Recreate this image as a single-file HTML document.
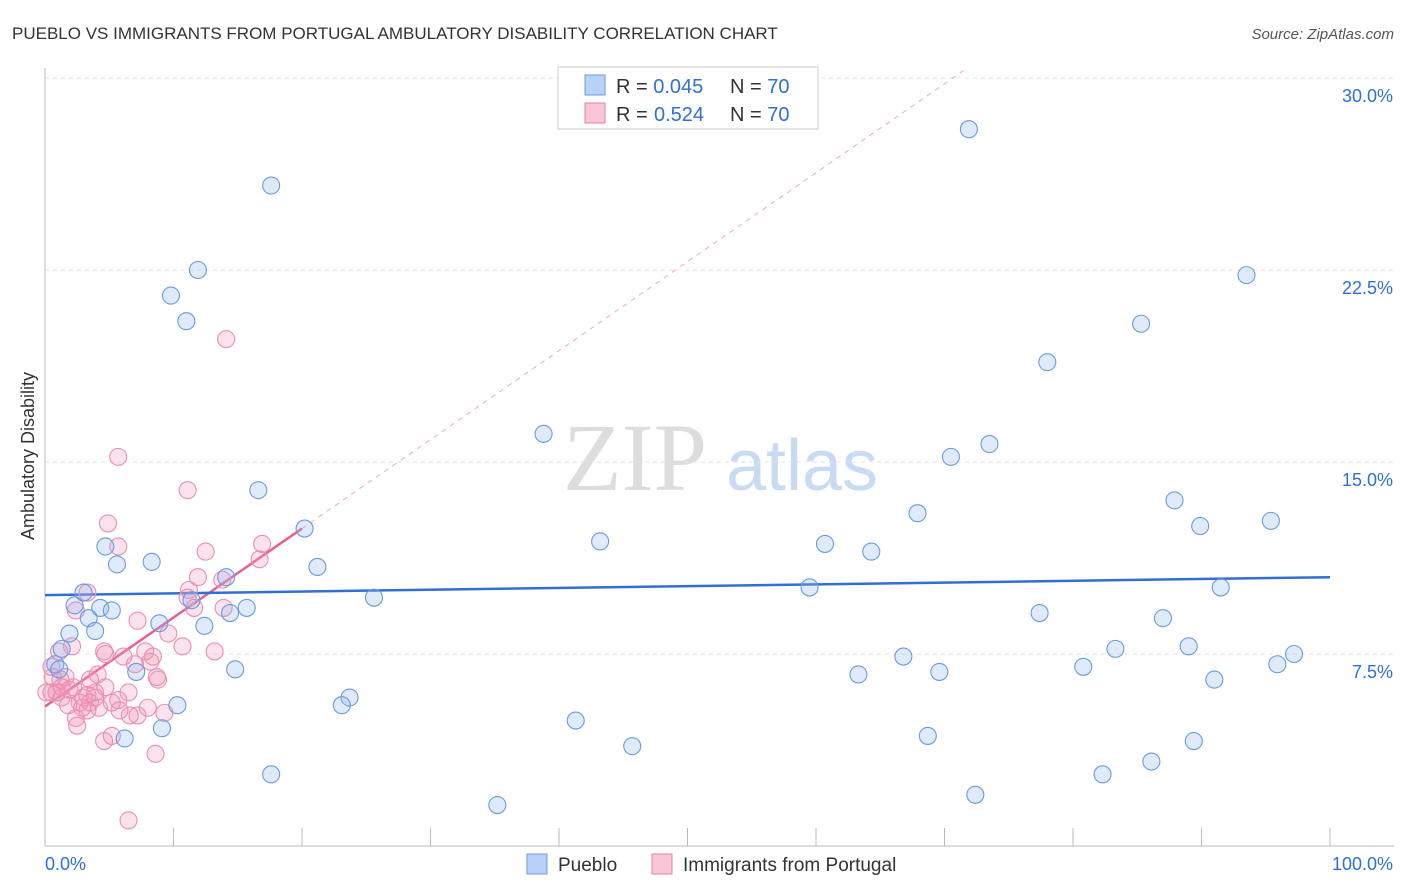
<!DOCTYPE html>
<html><head><meta charset="utf-8"><style>
body{margin:0;background:#fff;font-family:"Liberation Sans",sans-serif;}
svg{display:block}
</style></head><body>
<svg id="chart" width="1406" height="892" xmlns="http://www.w3.org/2000/svg">
<text x="12" y="39" font-size="17" fill="#333">PUEBLO VS IMMIGRANTS FROM PORTUGAL AMBULATORY DISABILITY CORRELATION CHART</text>
<text x="1394" y="39" font-size="15" fill="#555" font-style="italic" text-anchor="end">Source: ZipAtlas.com</text>
<text transform="translate(34,456) rotate(-90)" font-size="18" fill="#333" text-anchor="middle">Ambulatory Disability</text>
<g>
<text x="635" y="490" font-size="96" fill="#ddd" font-family="Liberation Serif,serif" text-anchor="middle">ZIP</text>
<text x="802" y="490" font-size="72" fill="#c9dbf3" text-anchor="middle">atlas</text>
</g>
<g id="grid"></g><g id="axes"></g><g id="lines"></g><g id="pts"></g>
<g>
<rect x="558" y="67" width="260" height="62" fill="#fff" stroke="#ccc"/>
<rect x="585" y="75" width="20" height="20" fill="#b9d1f5" stroke="#6a9be0"/>
<text x="616" y="93" font-size="20" fill="#333">R = <tspan fill="#2f6fd6">0.045</tspan></text>
<text x="730" y="93" font-size="20" fill="#333">N = <tspan fill="#2f6fd6">70</tspan></text>
<rect x="585" y="103" width="20" height="20" fill="#f8c6d6" stroke="#e87fa5"/>
<text x="616" y="121" font-size="20" fill="#333">R = </text>
<text x="654" y="121" font-size="20" fill="#2f6fd6">0.524</text>
<text x="730" y="121" font-size="20" fill="#333">N = <tspan fill="#2f6fd6">70</tspan></text>
</g>
<g>
<rect x="527" y="854" width="20" height="20" fill="#b9d1f5" stroke="#6a9be0"/>
<text x="558" y="871" font-size="19" fill="#333">Pueblo</text>
<rect x="652" y="854" width="20" height="20" fill="#f8c6d6" stroke="#e87fa5"/>
<text x="683" y="871" font-size="19" fill="#333">Immigrants from Portugal</text>
</g>
</svg>
<script>
const yTicks=[7.5,15,22.5,30];
const yTickLabels=["7.5%","15.0%","22.5%","30.0%"];
const xTicks=[0,10,20,30,40,50,60,70,80,90,100];
const blueTrend=[9.8,10.5];
const pinkTrend=[5.45,12.4];
const pinkTrendEndX=20;
const blueX=[17.6,71.9,11.9,9.8,11,93.5,85.3,78,38.8,73.5,70.5,16.6,87.9,67.9,95.4,89.9,20.2,43.2,60.7,4.7,64.3,8.3,5.6,21.2,14.1,3,59.5,91.5,25.6,2.3,4.3,5.2,15.7,14.4,11.4,3.4,8.9,12.4,77.4,87,1.9,3.9,1.3,83.3,89,66.8,0.8,80.8,95.9,97.2,14.8,7.1,63.3,69.6,91,23.7,23.1,10.3,41.3,9.1,6.2,68.7,45.7,89.4,86.1,82.3,17.6,72.4,35.2,1.1];
const blueY=[25.8,28,22.5,21.5,20.5,22.3,20.4,18.9,16.1,15.7,15.2,13.9,13.5,13,12.7,12.5,12.4,11.9,11.8,11.7,11.5,11.1,11,10.9,10.5,9.9,10.1,10.1,9.7,9.4,9.3,9.2,9.3,9.1,9.6,8.9,8.7,8.6,9.1,8.9,8.3,8.4,7.7,7.7,7.8,7.4,7.1,7,7.1,7.5,6.9,6.8,6.7,6.8,6.5,5.8,5.5,5.5,4.9,4.6,4.2,4.3,3.9,4.1,3.3,2.8,2.8,2,1.6,6.9];
const pinkX=[14.1,5.7,11.1,4.9,5.7,16.9,12.5,16.7,11.2,11.9,13.8,11.1,11.6,13.9,2.4,7.2,3.3,9.6,10.7,13.2,8.4,7.8,4.6,4.7,6.1,2.1,1.1,7,8.2,4.1,8.8,8.7,1.6,3.5,0.6,0.9,1.3,1.9,0.5,3.9,3.3,2.2,6.5,4.7,3,3.5,5.2,5.7,2.7,4.2,3.3,8,9.3,7.2,6.6,2.4,1.3,1.8,2.5,4.6,5.2,8.6,6.5,0.5,0.9,2.9,3.9,5.8,1.2,0.1];
const pinkY=[19.8,15.2,13.9,12.6,11.7,11.8,11.5,11.2,10,10.5,10.4,9.7,9.3,9.3,9.2,8.8,9.9,8.3,7.8,7.6,7.4,7.6,7.6,7.5,7.4,7.8,7.6,7.1,7.2,6.7,6.5,6.6,6.6,6.5,6.6,6,6.2,6.1,6,6,5.9,6.2,6,6.2,5.8,5.6,5.6,5.7,5.6,5.4,5.3,5.4,5.2,5.1,5.1,5,5.8,5.5,4.7,4.1,4.3,3.6,1,7,6.0,5.4,5.8,5.3,6.5,6];
const X=v=>45+v*12.85, Y=v=>846-v*25.6;
const NS="http://www.w3.org/2000/svg";
function mk(tag,attrs,parent){const e=document.createElementNS(NS,tag);for(const k in attrs)e.setAttribute(k,attrs[k]);document.getElementById(parent).appendChild(e);return e;}
yTicks.forEach((t,i)=>{
 const g=mk('line',{x1:45,x2:1394,y1:Y(t),y2:Y(t),stroke:'#e3e3e3','stroke-dasharray':'4,4'},'grid');
 
 
 const l=mk('text',{x:1393,y:Y(t)+24,'font-size':18,fill:'#2f6fd6','text-anchor':'end'},'grid');
 l.textContent=yTickLabels[i];
 
 
});
const ax=mk('line',{x1:45,x2:1394,y1:846,y2:846,stroke:'#bbb'},'axes');


const ay=mk('line',{x1:45,x2:45,y1:68,y2:846,stroke:'#bbb'},'axes');


xTicks.forEach(t=>{
 const k=mk('line',{x1:X(t),x2:X(t),y1:828,y2:846,stroke:'#bbb'},'axes');
 
 
});
const x0=mk('text',{x:45,y:870,'font-size':18,fill:'#2f6fd6'},'axes');x0.textContent='0.0%';


const x1=mk('text',{x:1393,y:870,'font-size':18,fill:'#2f6fd6','text-anchor':'end'},'axes');x1.textContent='100.0%';


pinkX.forEach((x,i)=>{
 const c=mk('circle',{cx:X(x),cy:Y(pinkY[i]),r:8.5,fill:'rgba(242,150,185,0.28)',stroke:'#ea8fb0','stroke-width':1.1},'pts');
 
 
});
blueX.forEach((x,i)=>{
 const c=mk('circle',{cx:X(x),cy:Y(blueY[i]),r:8.5,fill:'rgba(140,180,240,0.28)',stroke:'#6a9be0','stroke-width':1.1},'pts');
 
 
});
const slope=(pinkTrend[1]-pinkTrend[0])/pinkTrendEndX;
const xEnd=(30.3-pinkTrend[0])/slope;
const dl=mk('line',{x1:X(pinkTrendEndX),y1:Y(pinkTrend[1]),x2:X(xEnd),y2:Y(30.3),stroke:'#f0a8c0','stroke-dasharray':'5,5','stroke-width':1},'lines');


const pl=mk('line',{x1:X(0),y1:Y(pinkTrend[0]),x2:X(pinkTrendEndX),y2:Y(pinkTrend[1]),stroke:'#e8608e','stroke-width':2.5},'lines');


const bl=mk('line',{x1:X(0),y1:Y(blueTrend[0]),x2:X(100),y2:Y(blueTrend[1]),stroke:'#2f6fd6','stroke-width':2.5},'lines');


</script>
</body></html>
